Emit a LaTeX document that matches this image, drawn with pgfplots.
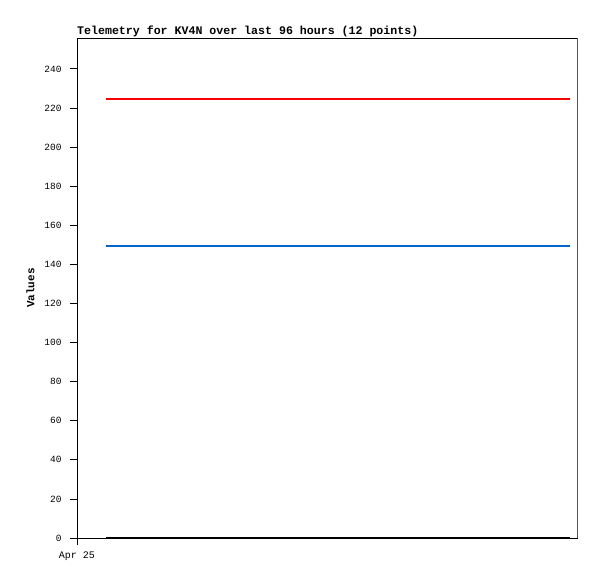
\documentclass[border=0pt]{standalone}
\usepackage{fontspec}
\setmainfont{Liberation Mono}
\usepackage{pgfplots}
\pgfplotsset{compat=1.18}
\definecolor{lred}{HTML}{FF0000}
\definecolor{lblue}{HTML}{0066CC}
\definecolor{spinegray}{HTML}{555555}
\begin{document}
\begin{tikzpicture}
\begin{axis}[
  scale only axis,
  width=500pt, height=500pt,
  xmin=0, xmax=95,
  ymin=0, ymax=255.8,
  xtick={0}, xticklabels={Apr 25},
  ytick={0,20,...,240},
  tick align=outside,
  xtick pos=bottom, ytick pos=left,
  major tick length=7pt,
  every tick/.style={black, line width=0.8pt},
  axis line style={line width=0.8pt},
  yticklabel style={font=\fontsize{9.5}{10}\selectfont, xshift=-5pt},
  xticklabel style={font=\fontsize{10}{11}\selectfont, yshift=-3pt},
  /pgf/number format/assume math mode=true,
  ylabel={\textbf{Values}},
  ylabel style={font=\fontsize{11}{12}\selectfont, yshift=3pt},
  title={\textbf{Telemetry for KV4N over last 96 hours (12 points)}},
  title style={font=\fontsize{11.6}{12}\selectfont, at={(axis description cs:0,1)}, anchor=south west, inner sep=0pt, yshift=-5pt},
  clip=false,
]
\addplot[lred, line width=2pt] coordinates {
(5.6,224.8) (13.6,224.8) (21.6,224.8) (29.6,224.8) (37.6,224.8) (45.6,224.8)
(53.6,224.8) (61.6,224.8) (69.6,224.8) (77.6,224.8) (85.6,224.8) (93.6,224.8)};
\addplot[lblue, line width=2pt] coordinates {
(5.6,149.6) (13.6,149.6) (21.6,149.6) (29.6,149.6) (37.6,149.6) (45.6,149.6)
(53.6,149.6) (61.6,149.6) (69.6,149.6) (77.6,149.6) (85.6,149.6) (93.6,149.6)};
\addplot[black, line width=2pt] coordinates {
(5.6,0) (13.6,0) (21.6,0) (29.6,0) (37.6,0) (45.6,0)
(53.6,0) (61.6,0) (69.6,0) (77.6,0) (85.6,0) (93.6,0)};
\draw[spinegray, line width=0.8pt] (rel axis cs:1,0) -- (rel axis cs:1,1);
\end{axis}
\path ([shift={(-77pt,-41pt)}]current axis.south west) rectangle ([shift={(20pt,38pt)}]current axis.north east);
\end{tikzpicture}
\end{document}
